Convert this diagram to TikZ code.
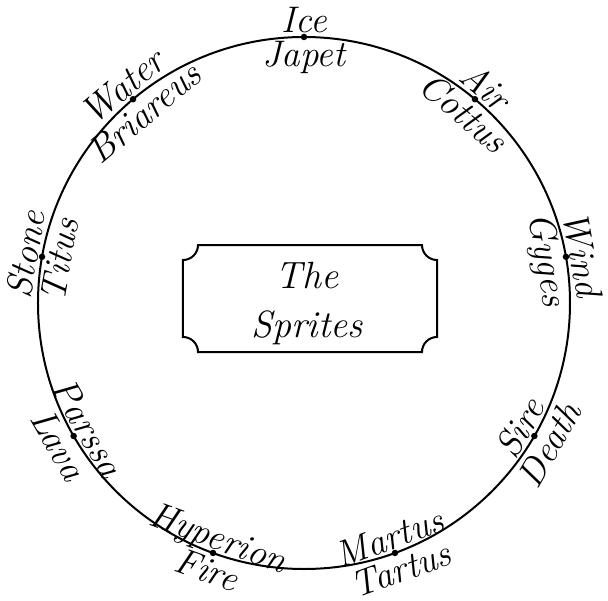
\documentclass[tikz,border=0pt]{standalone}
\usepackage{fontspec}
\usetikzlibrary{calc}
\begin{document}
\begin{tikzpicture}[x=1pt,y=1pt,
  lbl/.style={font=\fontsize{37}{42}\selectfont\itshape, inner sep=0pt, anchor=base},
  title/.style={font=\fontsize{38}{44}\selectfont\itshape, inner sep=0pt, anchor=base},
  dotpt/.style={circle, fill=black, inner sep=0pt, minimum size=6.5pt},
  ring/.style={line width=2pt},
  plaque/.style={line width=2pt}]
\useasboundingbox (-304,-297) rectangle (304,303);
\def\R{266}
\draw[ring] (0,0) circle (\R);
\foreach \ang/\up/\dn/\nm in {90/Ice/Japet/a, 50/Air/Cottus/b, 10/Wind/Gyges/c, -30/Sire/Death/d, -70/Martus/Tartus/e, -110/Hyperion/Fire/f, -150/Parssa/Lava/g, 170/Stone/Titus/h, 130/Water/Briareus/i}{
  \pgfmathsetmacro\rot{ifthenelse(\ang>0,\ang-90,\ang+90)}
  \node[dotpt] (p\nm) at (\ang:\R) {};
  \node[lbl, rotate=\rot] (u\nm) at ($(p\nm.center)+({\rot+90}:4)$) {\up};
  \node[lbl, rotate=\rot] (d\nm) at ($(p\nm.center)+({\rot-90}:30)$) {\dn};
}
% plaque
\def\xa{-121}\def\xb{133}\def\ya{-49}\def\yb{58}\def\rr{15}
\draw[plaque] (\xa+\rr,\yb) -- (\xb-\rr,\yb)
  arc[start angle=180, end angle=270, radius=\rr]
  -- (\xb,\ya+\rr)
  arc[start angle=90, end angle=180, radius=\rr]
  -- (\xa+\rr,\ya)
  arc[start angle=0, end angle=90, radius=\rr]
  -- (\xa,\yb-\rr)
  arc[start angle=270, end angle=360, radius=\rr]
  -- cycle;
\node[title] (the) at (3,15) {The};
\node[title] (sprites) at (3,-34) {Sprites};
\end{tikzpicture}
\end{document}
